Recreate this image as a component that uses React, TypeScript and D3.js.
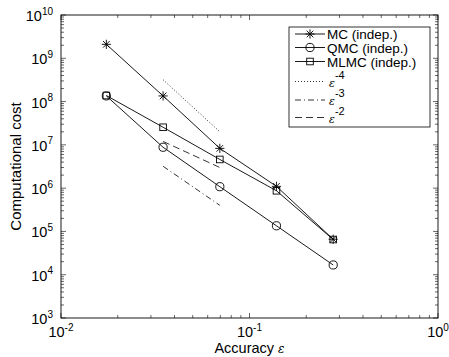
import React from 'react';
import { scaleLog, line, range } from 'd3';

// accuracy eps (x) and cost (y)
const accuracy = [0.0174, 0.0348, 0.0696, 0.139, 0.278];
const mcCost = [2.1e9, 1.35e8, 8.3e6, 1.1e6, 6.6e4];
const qmcCost = [1.35e8, 8.8e6, 1.08e6, 1.35e5, 1.68e4];
const mlmcCost = [1.38e8, 2.55e7, 4.6e6, 8.7e5, 6.5e4];

// reference slope lines
const slopeEps = [0.0348, 0.0696];
const slope4 = [3.2e8, 2.0e7];
const slope3 = [3.2e6, 4.0e5];
const slope2 = [1.2e7, 3.0e6];

const xTickExps = [-2, -1, 0];
const yTickExps = [3, 4, 5, 6, 7, 8, 9, 10];

const legendNames = ['MC (indep.)', 'QMC (indep.)', 'MLMC (indep.)'];
const legendSlopes = ['-4', '-3', '-2'];

const W = 449, H = 357;
const L = 61, R = 438, T = 15, B = 318;
const font = '"Liberation Sans", Arial, Helvetica, sans-serif';

function Asterisk({ x, y, r = 4.6 }: { x: number; y: number; r?: number }) {
  const d = r * 0.72;
  return (
    <g stroke="#000" strokeWidth={0.9}>
      <line x1={x - r} y1={y} x2={x + r} y2={y} />
      <line x1={x} y1={y - r} x2={x} y2={y + r} />
      <line x1={x - d} y1={y - d} x2={x + d} y2={y + d} />
      <line x1={x - d} y1={y + d} x2={x + d} y2={y - d} />
    </g>
  );
}

function Circ({ x, y }: { x: number; y: number }) {
  return <circle cx={x} cy={y} r={4.1} fill="none" stroke="#000" strokeWidth={0.9} />;
}

function Sq({ x, y }: { x: number; y: number }) {
  return <rect x={x - 3.3} y={y - 3.3} width={6.6} height={6.6} fill="none" stroke="#000" strokeWidth={0.9} />;
}

export default function App() {
  const x = scaleLog().domain([1e-2, 1]).range([L, R]);
  const y = scaleLog().domain([1e3, 1e10]).range([B, T]);

  const path = (xs: number[], ys: number[]) =>
    line<number>().x((_, i) => x(xs[i])).y((d) => y(d))(ys) || '';

  const xMinor: number[] = [];
  xTickExps.slice(0, -1).forEach((e) => range(2, 10).forEach((m) => xMinor.push(m * Math.pow(10, e))));
  const yMinor: number[] = [];
  yTickExps.slice(0, -1).forEach((e) => range(2, 10).forEach((m) => yMinor.push(m * Math.pow(10, e))));

  const series = [
    { ys: mcCost, Marker: Asterisk },
    { ys: qmcCost, Marker: Circ },
    { ys: mlmcCost, Marker: Sq },
  ];
  const slopes = [
    { ys: slope4, dash: '1 2' },
    { ys: slope3, dash: '6 3 1 3' },
    { ys: slope2, dash: '7 4' },
  ];

  const legRows = [34, 47.5, 61.5, 81.5, 100, 117.5];

  return (
    <svg width={W} height={H} style={{ position: 'absolute', left: 0, top: 0, background: '#fff' }} fontFamily={font}>
      <rect x={0} y={0} width={W} height={H} fill="#fff" />
      {/* ticks */}
      <g stroke="#000" strokeWidth={0.6}>
        {xTickExps.map((e) => (
          <g key={'xt' + e}>
            <line x1={x(Math.pow(10, e))} x2={x(Math.pow(10, e))} y1={B} y2={B - 5} />
            <line x1={x(Math.pow(10, e))} x2={x(Math.pow(10, e))} y1={T} y2={T + 5} />
          </g>
        ))}
        {xMinor.map((v) => (
          <g key={'xm' + v}>
            <line x1={x(v)} x2={x(v)} y1={B} y2={B - 3} />
            <line x1={x(v)} x2={x(v)} y1={T} y2={T + 3} />
          </g>
        ))}
        {yTickExps.map((e) => (
          <g key={'yt' + e}>
            <line x1={L} x2={L + 5} y1={y(Math.pow(10, e))} y2={y(Math.pow(10, e))} />
            <line x1={R} x2={R - 5} y1={y(Math.pow(10, e))} y2={y(Math.pow(10, e))} />
          </g>
        ))}
        {yMinor.map((v) => (
          <g key={'ym' + v}>
            <line x1={L} x2={L + 3} y1={y(v)} y2={y(v)} />
            <line x1={R} x2={R - 3} y1={y(v)} y2={y(v)} />
          </g>
        ))}
      </g>
      <rect x={L} y={T} width={R - L} height={B - T} fill="none" stroke="#000" strokeWidth={0.9} />

      {/* tick labels */}
      {xTickExps.map((e) => (
        <text key={'xl' + e} x={x(Math.pow(10, e))} y={337} textAnchor="middle" fontSize={14.5}>
          10<tspan fontSize={10} dy={-6.5}>{e}</tspan>
        </text>
      ))}
      {yTickExps.map((e) => (
        <text key={'yl' + e} x={53} y={y(Math.pow(10, e)) + 6} textAnchor="end" fontSize={14.5}>
          10<tspan fontSize={10} dy={-6.5}>{e}</tspan>
        </text>
      ))}
      <text x={(L + R) / 2} y={353} textAnchor="middle" fontSize={14.5}>
        Accuracy <tspan fontStyle="italic" fontFamily="DejaVu Serif" fontSize={12}>ε</tspan>
      </text>
      <text transform={`translate(21,${(T + B) / 2}) rotate(-90)`} textAnchor="middle" fontSize={15}>
        Computational cost
      </text>

      {/* slope lines */}
      {slopes.map((s, i) => (
        <path key={'s' + i} d={path(slopeEps, s.ys)} fill="none" stroke="#000" strokeWidth={0.8} strokeDasharray={s.dash} />
      ))}

      {/* data */}
      {series.map((s, i) => (
        <g key={'d' + i}>
          <path d={path(accuracy, s.ys)} fill="none" stroke="#000" strokeWidth={0.9} />
          {s.ys.map((v, j) => (
            <s.Marker key={j} x={x(accuracy[j])} y={y(v)} />
          ))}
        </g>
      ))}

      {/* legend */}
      <rect x={289} y={27} width={141} height={100} fill="#fff" stroke="#000" strokeWidth={0.8} />
      {series.map((s, i) => (
        <g key={'lg' + i}>
          <line x1={295} x2={325} y1={legRows[i]} y2={legRows[i]} stroke="#000" strokeWidth={0.9} />
          <s.Marker x={310} y={legRows[i]} />
          <text x={327} y={legRows[i] + 5} fontSize={13.5}>{legendNames[i]}</text>
        </g>
      ))}
      {slopes.map((s, i) => (
        <g key={'lgs' + i}>
          <line x1={295} x2={325} y1={legRows[3 + i]} y2={legRows[3 + i]} stroke="#000" strokeWidth={0.8} strokeDasharray={s.dash} />
          <text x={329} y={legRows[3 + i] + 5} fontSize={11}>
            <tspan fontStyle="italic" fontFamily="DejaVu Serif">ε</tspan>
            <tspan fontSize={11} dy={-8} fontFamily={font}>{legendSlopes[i]}</tspan>
          </text>
        </g>
      ))}
    </svg>
  );
}
